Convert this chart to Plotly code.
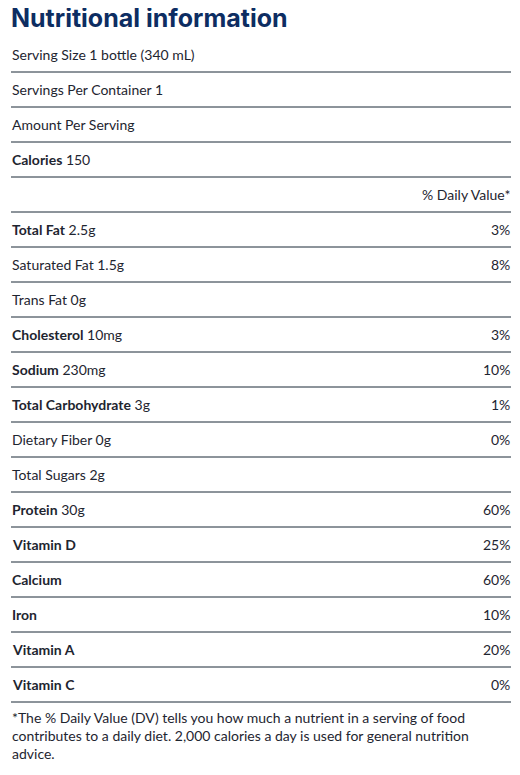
import plotly.graph_objects as go

OFF = 8
W, H = 520 - 2 * OFF, 775 - 2 * OFF
title = "Nutritional information"
header_rows = ["Serving Size 1 bottle (340 mL)", "Servings Per Container 1", "Amount Per Serving"]
nutrients = ["Calories", "", "Total Fat", "Saturated Fat", "Trans Fat", "Cholesterol", "Sodium",
             "Total Carbohydrate", "Dietary Fiber", "Total Sugars", "Protein", "Vitamin D",
             "Calcium", "Iron", "Vitamin A", "Vitamin C"]
amounts = ["150", "", "2.5g", "1.5g", "0g", "10mg", "230mg", "3g", "0g", "2g", "30g", "", "", "", "", ""]
daily_values = ["", "% Daily Value*", "3%", "8%", "", "3%", "10%", "1%", "0%", "", "60%",
                "25%", "60%", "10%", "20%", "0%"]
bold_flags = [True, False, True, False, False, True, True, True, False, False, True, True,
              True, True, True, True]
footnote = ("*The % Daily Value (DV) tells you how much a nutrient in a serving of food<br>"
            "contributes to a daily diet. 2,000 calories a day is used for general nutrition<br>"
            "advice.")

TXT = "#1e2530"
NAVY = "#0d2d62"
FONT = "Lato, Open Sans, sans-serif"

def px(x): return (x - OFF) / W
def py(y): return 1 - (y - OFF) / H

fig = go.Figure()
ann, shapes = [], []
ann.append(dict(x=px(9), y=py(18), text="<b>" + title + "</b>", xanchor="left", yanchor="middle",
                showarrow=False, font=dict(size=25, color=NAVY, family="Inter, sans-serif")))

rows = []
for t in header_rows:
    rows.append((t, ""))
for n, a, d, b in zip(nutrients, amounts, daily_values, bold_flags):
    left = (("<b>" + n + "</b>") if b else n) + ((" " + a) if a else "")
    rows.append((left, d))

for i, (left, right) in enumerate(rows):
    yc = 54 + 35 * i
    if left:
        ann.append(dict(x=px(10), y=py(yc), text=left, xanchor="left", yanchor="middle",
                        showarrow=False, font=dict(size=14, color=TXT, family=FONT)))
    if right:
        ann.append(dict(x=px(512), y=py(yc), text=right, xanchor="right", yanchor="middle",
                        showarrow=False, font=dict(size=14, color=TXT, family=FONT)))
    ly = yc + 18
    shapes.append(dict(type="line", xref="paper", yref="paper", x0=px(11), x1=px(511),
                       y0=py(ly), y1=py(ly), line=dict(color="#1b2836", width=1)))

ann.append(dict(x=px(10), y=py(707), text=footnote, xanchor="left", yanchor="top", align="left",
                showarrow=False, font=dict(size=14, color=TXT, family=FONT)))

fig.update_layout(width=W, height=H, margin=dict(l=0, r=0, t=0, b=0),
                  paper_bgcolor="white", plot_bgcolor="white",
                  xaxis=dict(visible=False, range=[0, 1]), yaxis=dict(visible=False, range=[0, 1]),
                  annotations=ann, shapes=shapes, showlegend=False)
fig.write_html("out.html")
